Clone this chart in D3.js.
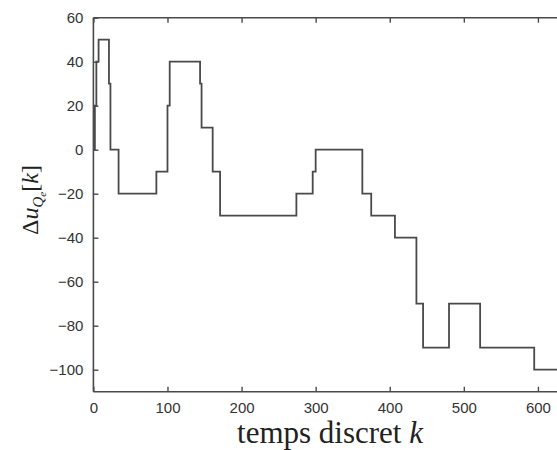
<!DOCTYPE html>
<html><head><meta charset="utf-8">
<script src="https://cdn.jsdelivr.net/npm/d3@7/dist/d3.min.js"></script>
<style>html,body{margin:0;padding:0;background:#fff;overflow:hidden}svg{display:block}</style>
</head><body>
<script>
// step data: value holds from k to the next k
const stepK =   [0, 2, 4, 7, 21, 23, 34, 85, 100, 103, 144, 146, 161, 171, 274, 296, 300, 363, 375, 407, 436, 445, 480, 522, 595, 700];
const stepVal = [0, 20, 40, 50, 30, 0, -20, -10, 20, 40, 30, 10, -10, -30, -20, -10, 0, -20, -30, -40, -70, -90, -70, -90, -100, -100];
const xTicks = [0, 100, 200, 300, 400, 500, 600];
const yTicks = [-100, -80, -60, -40, -20, 0, 20, 40, 60];

const W = 557, H = 450;
const svg = d3.select("body").append("svg").attr("width", W).attr("height", H);
const x = d3.scaleLinear().domain([0, 700]).range([93.4, 612]);
const y = d3.scaleLinear().domain([-110, 60]).range([391.7, 17.7]);
const ink = "#4a4a4a";

const data = stepK.map((k, i) => ({k, v: stepVal[i]}));
svg.append("path").datum(data)
  .attr("d", d3.line().x(d => x(d.k)).y(d => y(d.v)).curve(d3.curveStepAfter))
  .attr("fill", "none").attr("stroke", ink).attr("stroke-width", 1.8);

// frame
const fr = svg.append("g").attr("stroke", ink).attr("stroke-width", 1.6).attr("fill", "none");
fr.append("line").attr("x1", x(0)).attr("x2", x(700)).attr("y1", y(-110)).attr("y2", y(-110));
fr.append("line").attr("x1", x(0)).attr("x2", x(700)).attr("y1", y(60)).attr("y2", y(60));
fr.append("line").attr("x1", x(0)).attr("x2", x(0)).attr("y1", y(-110)).attr("y2", y(60));

const font = "'Liberation Sans', Arial, sans-serif";
// bottom axis (inward ticks)
const xb = svg.append("g").attr("transform", `translate(0,${y(-110)})`)
  .call(d3.axisBottom(x).tickValues(xTicks).tickSize(-5).tickPadding(11).tickFormat(d3.format("d")));
xb.select(".domain").remove();
xb.selectAll("line").attr("stroke", ink).attr("stroke-width", 1.4);
xb.selectAll("text").attr("font-family", font).attr("font-size", 15).attr("fill", "#333");
// top ticks
const xt = svg.append("g").attr("transform", `translate(0,${y(60)})`)
  .call(d3.axisTop(x).tickValues(xTicks).tickSize(-5).tickFormat(""));
xt.select(".domain").remove();
xt.selectAll("line").attr("stroke", ink).attr("stroke-width", 1.4);
// left axis
const yl = svg.append("g").attr("transform", `translate(${x(0)},0)`)
  .call(d3.axisLeft(y).tickValues(yTicks).tickSize(-5).tickPadding(10).tickFormat(d => d < 0 ? "\u2212" + Math.abs(d) : d));
yl.select(".domain").remove();
yl.selectAll("line").attr("stroke", ink).attr("stroke-width", 1.4);
yl.selectAll("text").attr("font-family", font).attr("font-size", 15).attr("fill", "#333");

// x label
const serif = "'Liberation Serif', 'Times New Roman', serif";
const xl = svg.append("text").attr("x", 330).attr("y", 443).attr("text-anchor", "middle")
  .attr("font-family", serif).attr("font-size", 31).attr("fill", "#222");
xl.append("tspan").text("temps discret ");
xl.append("tspan").attr("font-style", "italic").text("k");

// y label
const ylab = svg.append("text").attr("transform", "translate(38,200) rotate(-90)")
  .attr("text-anchor", "middle").attr("font-family", serif).attr("font-size", 24).attr("fill", "#222");
ylab.append("tspan").text("\u0394");
ylab.append("tspan").attr("font-style", "italic").text("u");
ylab.append("tspan").attr("font-style", "italic").attr("font-size", 15).attr("dy", 5).text("Q");
ylab.append("tspan").attr("font-style", "italic").attr("font-size", 11).attr("dy", 3).text("e");
ylab.append("tspan").attr("dy", -8).text("[");
ylab.append("tspan").attr("font-style", "italic").text("k");
ylab.append("tspan").text("]");
</script>
</body></html>
